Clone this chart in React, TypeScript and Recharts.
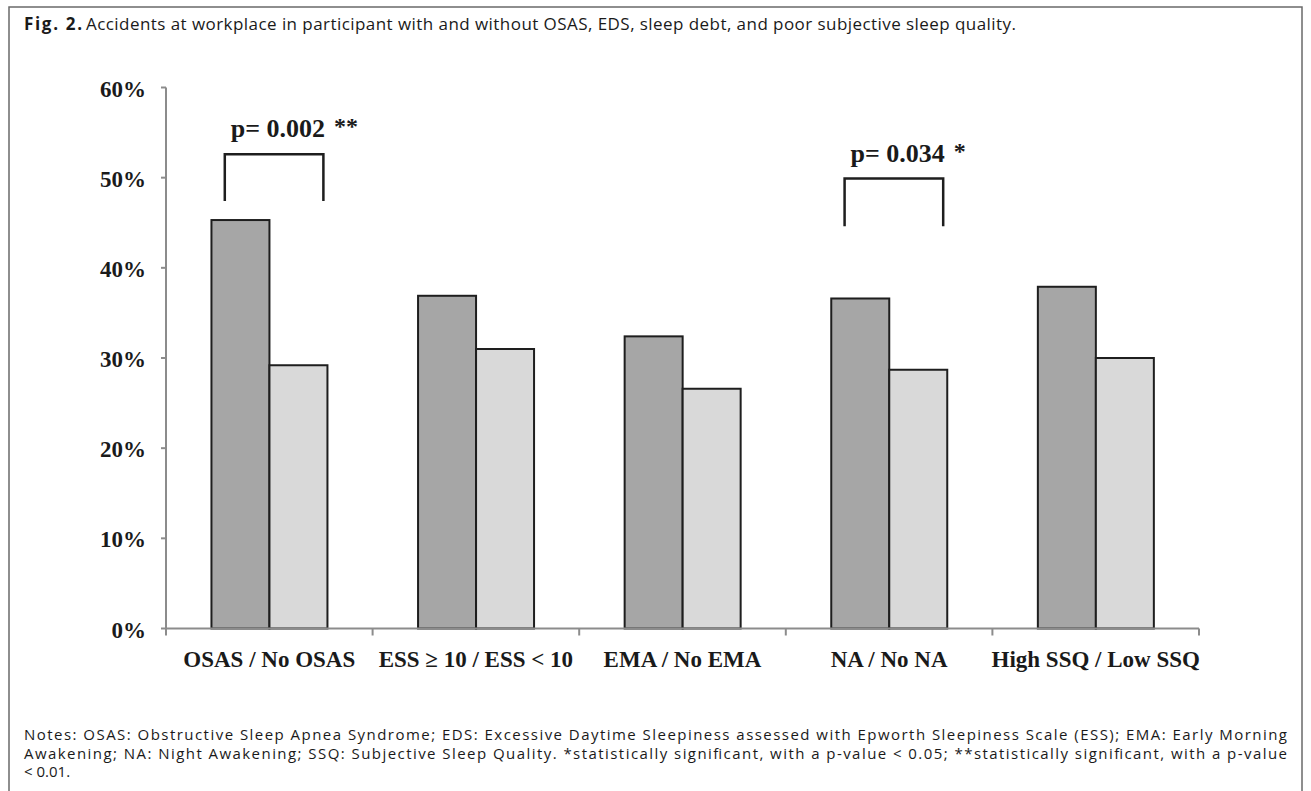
import React from "react";
import { BarChart, Bar, XAxis, YAxis } from "recharts";

const categories = ["OSAS / No OSAS", "ESS ≥ 10 / ESS < 10", "EMA / No EMA", "NA / No NA", "High SSQ / Low SSQ"];
const withCondition = [45.3, 36.9, 32.4, 36.6, 37.9];
const withoutCondition = [29.2, 31.0, 26.6, 28.7, 30.0];
const pLabels = ["p= 0.002", "", "", "p= 0.034", ""];
const pStars = ["**", "", "", "*", ""];
const bracketTop = [52.6, null, null, 49.9, null];
const bracketBottom = [47.4, null, null, 44.6, null];
const yTicks = [0, 10, 20, 30, 40, 50, 60];

const data = categories.map((name, i) => ({
  name,
  a: withCondition[i],
  b: withoutCondition[i],
  p: pLabels[i],
  stars: pStars[i],
  top: bracketTop[i],
  bottom: bracketBottom[i],
}));

const SERIF = "'Liberation Serif', 'Times New Roman', serif";
const SANS = "'Open Sans', 'Noto Sans', sans-serif";
const AXIS = "#8c8c8c";

const DarkBar = (props: any) => {
  const { x, y, width, height, payload, value } = props;
  const v = Array.isArray(value) ? value[1] - value[0] : value;
  const base = y + height;
  const perUnit = height / v;
  const els: any[] = [
    <rect key="r" x={x} y={y} width={width} height={height} fill="#a6a6a6" stroke="#1e1e1e" strokeWidth={2} />,
  ];
  if (payload && payload.p) {
    const yt = base - payload.top * perUnit;
    const yb = base - payload.bottom * perUnit;
    const xl = x + width * 0.23;
    const xr = x + width * 1.93;
    els.push(
      <path key="br" d={`M${xl},${yb} L${xl},${yt} L${xr},${yt} L${xr},${yb}`} fill="none" stroke="#1e1e1e" strokeWidth={2.5} />
    );
    els.push(
      <text key="t" x={xl + 6} y={yt - 17} fontFamily={SERIF} fontWeight="bold" fontSize={26} fill="#1a1a1a">
        {payload.p}
        <tspan dx={9} dy={-3} fontSize={24}>{payload.stars}</tspan>
      </text>
    );
  }
  return <g>{els}</g>;
};

const YTick = (props: any) => {
  const { x, y, payload } = props;
  return (
    <text x={x} y={y} dy={9} textAnchor="end" fontFamily={SERIF} fontWeight="bold" fontSize={23} fill="#1a1a1a">
      {payload.value}%
    </text>
  );
};

const XTick = (props: any) => {
  const { x, y, payload, index, visibleTicksCount } = props;
  const half = payload && typeof payload.offset === "number" ? payload.offset : 0;
  const axisY = y;
  const last = index === (visibleTicksCount ?? categories.length) - 1;
  return (
    <g>
      {half > 0 && <line x1={x - half} y1={axisY} x2={x - half} y2={axisY + 7} stroke={AXIS} strokeWidth={2} />}
      {half > 0 && last && <line x1={x + half} y1={axisY} x2={x + half} y2={axisY + 7} stroke={AXIS} strokeWidth={2} />}
      <text x={x} y={axisY} dy={38.5} textAnchor="middle" fontFamily={SERIF} fontWeight="bold" fontSize={23} fill="#1a1a1a">
        {payload.value}
      </text>
    </g>
  );
};

export default function App() {
  return (
    <div style={{ position: "absolute", left: 0, top: 0, width: 1311, height: 791, background: "#fff", overflow: "hidden" }}>
      <svg width={1311} height={791} style={{ position: "absolute", left: 0, top: 0 }}>
        <rect x={9} y={7} width={1293} height={800} fill="none" stroke="#6a6a6a" strokeWidth={1.5} />
        <text x={24} y={30} fontFamily={SANS} fontSize={17} fill="#1a1a1a" fontWeight="bold" textLength={58} lengthAdjust="spacing">
          Fig. 2.
        </text>
        <text x={86} y={30} fontFamily={SANS} fontSize={17} fill="#1a1a1a" textLength={930} lengthAdjust="spacing">
          Accidents at workplace in participant with and without OSAS, EDS, sleep debt, and poor subjective sleep quality.
        </text>
        <text x={24} y={740} fontFamily={SANS} fontSize={15} fill="#1a1a1a" textLength={1263} lengthAdjust="spacing">
          Notes: OSAS: Obstructive Sleep Apnea Syndrome; EDS: Excessive Daytime Sleepiness assessed with Epworth Sleepiness Scale (ESS); EMA: Early Morning
        </text>
        <text x={24} y={758.5} fontFamily={SANS} fontSize={15} fill="#1a1a1a" textLength={1263} lengthAdjust="spacing">
          Awakening; NA: Night Awakening; SSQ: Subjective Sleep Quality. *statistically significant, with a p-value &lt; 0.05; **statistically significant, with a p-value
        </text>
        <text x={24} y={777} fontFamily={SANS} fontSize={15} fill="#1a1a1a">
          &lt; 0.01.
        </text>
      </svg>
      <div style={{ position: "absolute", left: 0, top: 0 }}>
        <BarChart
          width={1311}
          height={700}
          data={data}
          margin={{ top: 87.5, right: 112, bottom: 11.5, left: 100 }}
          barCategoryGap="22%"
          barGap={0}
        >
          <XAxis
            dataKey="name"
            height={60}
            axisLine={{ stroke: AXIS, strokeWidth: 2 }}
            tickLine={false}
            tickSize={0}
            tickMargin={0}
            interval={0}
            tick={<XTick />}
          />
          <YAxis
            width={66}
            domain={[0, 60]}
            ticks={yTicks}
            interval={0}
            axisLine={{ stroke: AXIS, strokeWidth: 2 }}
            tickLine={{ stroke: AXIS, strokeWidth: 2 }}
            tickSize={5}
            tickMargin={15}
            tick={<YTick />}
          />
          <Bar dataKey="a" isAnimationActive={false} shape={<DarkBar />} />
          <Bar dataKey="b" isAnimationActive={false} fill="#d9d9d9" stroke="#1e1e1e" strokeWidth={2} />
        </BarChart>
      </div>
    </div>
  );
}
